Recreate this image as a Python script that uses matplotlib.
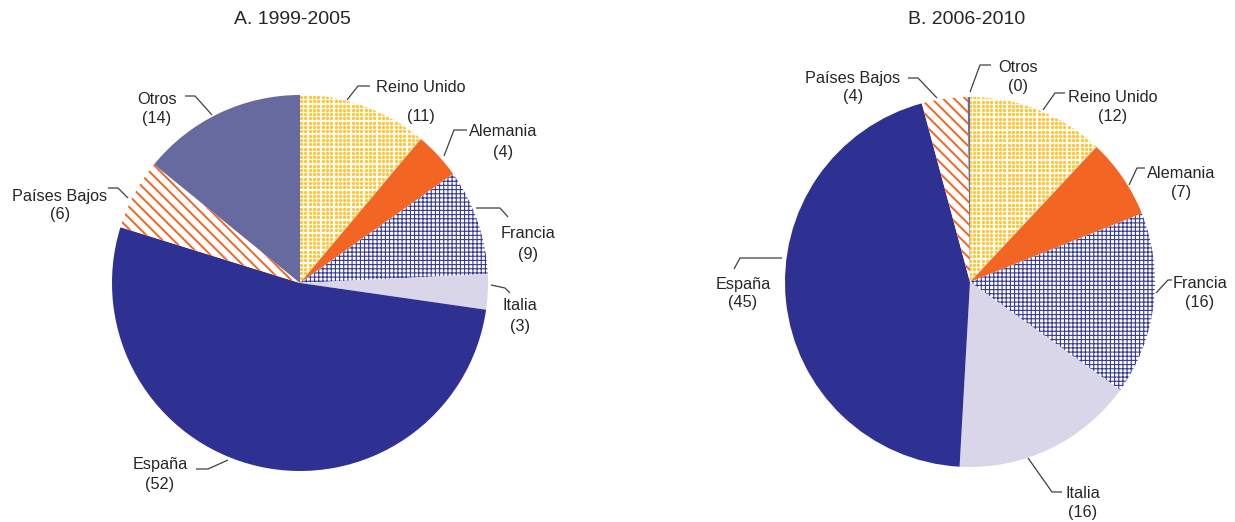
import matplotlib
matplotlib.use("Agg")
import numpy as np
import matplotlib.pyplot as plt

# ---------------- data ----------------
categories = ["Reino Unido", "Alemania", "Francia", "Italia", "España", "Países Bajos", "Otros"]
values_a = [11, 4, 9, 3, 52, 6, 14]
values_b = [12, 7, 16, 16, 45, 4, 0.2]
labels_a = [11, 4, 9, 3, 52, 6, 14]
labels_b = [12, 7, 16, 16, 45, 4, 0]
title_a = "A. 1999-2005"
title_b = "B. 2006-2010"

# ---------------- styles ----------------
# (facecolor, hatch, hatchcolor, hatch linewidth)
styles = [
    ("white", "dots", "#FDC530", None),        # Reino Unido
    ("#F26522", None, None, None),             # Alemania
    ("white", "++++", "#363B94", 0.8),         # Francia
    ("#D9D6EA", None, None, None),             # Italia
    ("#2E3192", None, None, None),             # España
    ("white", "\\\\\\", "#F26522", 1.4),       # Países Bajos
    ("#666A9E", None, None, None),             # Otros
]

plt.rcParams["font.family"] = ["Liberation Sans", "DejaVu Sans"]
plt.rcParams["hatch.linewidth"] = 0.9

W, H = 1235, 522
fig = plt.figure(figsize=(W / 100, H / 100), dpi=100)
ax = fig.add_axes([0, 0, 1, 1])

TXT = "#262626"
LC = "#404040"


def Y(py):
    return H - py


def draw_pie(values, center, radius):
    cx, cy = center[0], Y(center[1])
    wedges, _ = ax.pie(values, startangle=90, counterclock=False,
                       center=(cx, cy), radius=radius,
                       wedgeprops=dict(linewidth=0))
    for w, (fc, hatch, hc, hlw) in zip(wedges, styles):
        w.set_facecolor(fc)
        w.set_linewidth(0)
        if hatch == "dots":
            w.set_edgecolor(fc)
            step = 4.3
            gx = np.arange(cx - radius, cx + radius + step, step)
            gy = np.arange(cy - radius, cy + radius + step, step)
            XX, YY = np.meshgrid(gx, gy)
            sc = ax.scatter(XX.ravel(), YY.ravel(), s=4.5, c=hc,
                            edgecolors=hc, linewidths=0.3, marker="o",
                            zorder=w.get_zorder() + 0.1)
            sc.set_clip_path(w)
        elif hatch:
            w.set_edgecolor(hc)
            w.set_hatch(hatch)
            if hasattr(w, "set_hatch_linewidth"):
                w.set_hatch_linewidth(hlw)
            else:
                w._hatch_linewidth = hlw
        else:
            w.set_edgecolor(fc)
    return wedges


draw_pie(values_a, (300, 283), 188)
draw_pie(values_b, (970, 282), 185)

# label layout: (leader polyline in pixels, text centre x, name y, number y)
layout_a = [
    ([(347, 100), (358, 86), (370, 86)], 421, 87, 116),
    ([(444, 156), (454, 130), (467, 130)], 503, 132, 152),
    ([(476, 208), (500, 208), (508, 217)], 528, 234, 254),
    ([(491, 285), (505, 288), (510, 293)], 520, 306, 326),
    ([(228, 460), (208, 469), (196, 469)], 160, 464, 484),
    ([(108, 188), (118, 188), (128, 198)], 60, 196, 215),
    ([(185, 96), (195, 96), (212, 115)], 157, 99, 118),
]
layout_b = [
    ([(1043, 110), (1055, 93), (1065, 93)], 1113, 98, 117),
    ([(1129, 185), (1137, 168), (1145, 168)], 1181, 173, 192),
    ([(1156, 293), (1168, 280), (1172, 280)], 1200, 283, 302),
    ([(1028, 458), (1052, 492), (1062, 492)], 1083, 493, 512),
    ([(782, 258), (740, 258), (734, 269)], 743, 285, 303),
    ([(908, 78), (918, 78), (937, 98)], 853, 78, 97),
    ([(970, 92), (980, 65), (991, 65)], 1018, 67, 86),
]

FS = 11.7


def draw_labels(layout, labels):
    for (pts, tx, ny, vy), name, num in zip(layout, categories, labels):
        xs = [p[0] for p in pts]
        ys = [Y(p[1]) for p in pts]
        ax.plot(xs, ys, color=LC, lw=0.9, solid_capstyle="butt")
        ax.text(tx, Y(ny), name, ha="center", va="center", fontsize=FS, color=TXT)
        ax.text(tx, Y(vy), f"({num})", ha="center", va="center", fontsize=FS, color=TXT)


draw_labels(layout_a, labels_a)
draw_labels(layout_b, labels_b)

ax.text(292, Y(20), title_a, ha="center", va="center", fontsize=14, color=TXT)
ax.text(967, Y(20), title_b, ha="center", va="center", fontsize=14, color=TXT)

ax.set_xlim(0, W)
ax.set_ylim(0, H)
ax.set_aspect("equal")
ax.axis("off")

fig.savefig("out.png", dpi=100, facecolor="white")
